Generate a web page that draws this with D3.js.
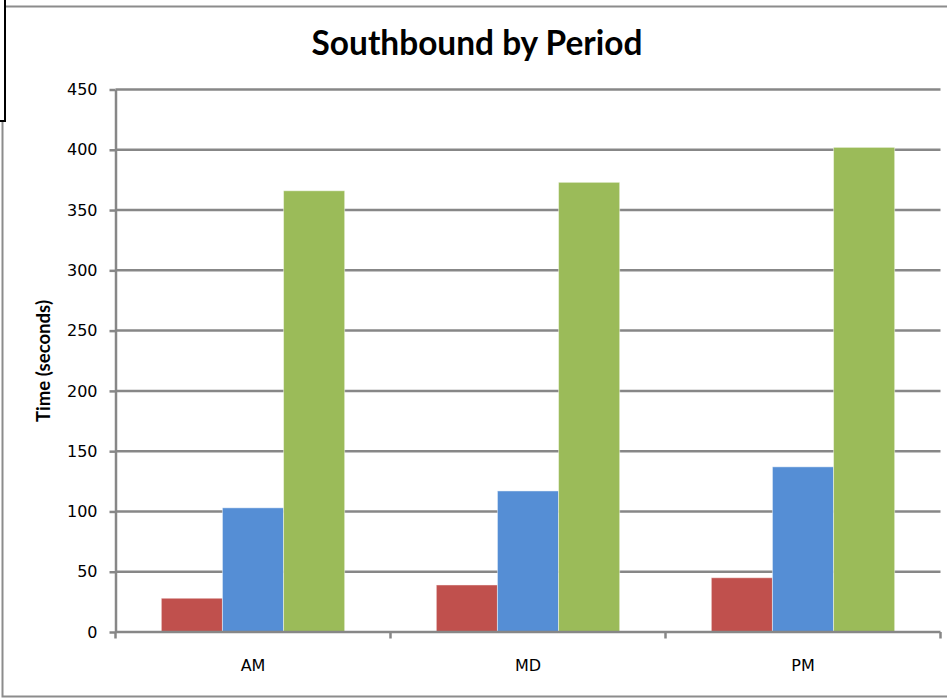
<!DOCTYPE html>
<html>
<head>
<meta charset="utf-8">
<script src="https://cdn.jsdelivr.net/npm/d3@7"></script>
<style>
  html, body { margin: 0; padding: 0; background: #fff; }
  svg { display: block; }
</style>
</head>
<body>
<div id="chart"></div>
<script>
// chart data
var categories = ["AM", "MD", "PM"];
var seriesNames = ["Series1", "Series2", "Series3"];
var series1 = [28, 39, 45];
var series2 = [103, 117, 137];
var series3 = [366, 373, 402];
var yTicks = [0, 50, 100, 150, 200, 250, 300, 350, 400, 450];
var colors = ["#c0504d", "#558ed5", "#9bbb59"];

var width = 947, height = 698;
var svg = d3.select("#chart").append("svg")
    .attr("width", width)
    .attr("height", height);

// outer frame (partly hidden by the box in the corner)
var frameColor = "#8c8c8c";
svg.append("path")
    .attr("d", "M6,6.5 H947 M2.5,122 V696.5 H947")
    .attr("fill", "none")
    .attr("stroke", frameColor)
    .attr("stroke-width", 2);
svg.append("path")
    .attr("d", "M5,0 V121 H0")
    .attr("fill", "none")
    .attr("stroke", "#000")
    .attr("stroke-width", 2);

var plotLeft = 115.5, plotRight = 940.5, plotTop = 89.5, plotBottom = 632;

var x0 = d3.scaleBand().domain(categories).range([plotLeft, plotRight]).padding(0);
// Excel style gap width 150%
var x1 = d3.scaleBand().domain(seriesNames).range([0, x0.bandwidth()])
    .paddingInner(0).paddingOuter(0.75);
var y = d3.scaleLinear().domain([0, 450]).range([plotBottom, plotTop]);

var gridColor = "#878787";

// gridlines
svg.append("g").selectAll("line")
    .data(yTicks.filter(function (d) { return d > 0; }))
    .join("line")
    .attr("x1", plotLeft).attr("x2", plotRight)
    .attr("y1", function (d) { return y(d); })
    .attr("y2", function (d) { return y(d); })
    .attr("stroke", gridColor)
    .attr("stroke-width", 2.5);

// bars
var rows = categories.map(function (c, i) {
    return [series1[i], series2[i], series3[i]].map(function (v, j) {
        return {cat: c, name: seriesNames[j], value: v, color: colors[j]};
    });
});

svg.append("g").selectAll("g")
    .data(rows)
    .join("g")
    .attr("transform", function (d) { return "translate(" + x0(d[0].cat) + ",0)"; })
    .selectAll("rect")
    .data(function (d) { return d; })
    .join("rect")
    .attr("x", function (d) { return x1(d.name); })
    .attr("width", x1.bandwidth())
    .attr("y", function (d) { return y(d.value); })
    .attr("height", function (d) { return y(0) - y(d.value); })
    .attr("fill", function (d) { return d.color; })
    .attr("stroke", "rgba(255,255,255,0.45)")
    .attr("stroke-width", 1);

// y axis
var yAxis = svg.append("g")
    .attr("transform", "translate(" + plotLeft + ",0)")
    .call(d3.axisLeft(y).tickValues(yTicks).tickSize(6).tickSizeOuter(0).tickPadding(12));
yAxis.select(".domain").attr("stroke", gridColor).attr("stroke-width", 2.5);
yAxis.selectAll(".tick line").attr("stroke", gridColor).attr("stroke-width", 2.5);
yAxis.selectAll("text")
    .attr("fill", "#000")
    .style("font-family", "'DejaVu Sans', sans-serif")
    .style("font-size", "16px");

// x axis: line plus ticks on the category edges
var edges = categories.map(function (c) { return x0(c); }).concat([plotRight]);
svg.append("line")
    .attr("x1", plotLeft).attr("x2", plotRight)
    .attr("y1", plotBottom).attr("y2", plotBottom)
    .attr("stroke", gridColor).attr("stroke-width", 2.5);
svg.append("g").selectAll("line")
    .data(edges)
    .join("line")
    .attr("x1", function (d) { return d; }).attr("x2", function (d) { return d; })
    .attr("y1", plotBottom).attr("y2", plotBottom + 6.5)
    .attr("stroke", gridColor).attr("stroke-width", 2.5);
svg.append("g").selectAll("text")
    .data(categories)
    .join("text")
    .attr("x", function (d) { return x0(d) + x0.bandwidth() / 2; })
    .attr("y", 671)
    .attr("text-anchor", "middle")
    .style("font-family", "'DejaVu Sans', sans-serif")
    .style("font-size", "16px")
    .text(function (d) { return d; });

// fit a bold text to the width it has in the picture
function fitText(sel, target) {
    var size = parseFloat(sel.style("font-size"));
    var len = sel.node().getComputedTextLength();
    if (len > 0) sel.style("font-size", (size * target / len) + "px");
}

var title = svg.append("text")
    .attr("x", 477)
    .attr("y", 55)
    .attr("text-anchor", "middle")
    .style("font-family", "Lato, 'Open Sans', sans-serif")
    .style("font-weight", "bold")
    .style("font-size", "28px")
    .text("Southbound by Period");
fitText(title, 331);

var yTitle = svg.append("text")
    .attr("transform", "translate(50,361) rotate(-90)")
    .attr("text-anchor", "middle")
    .style("font-family", "Lato, 'Open Sans', sans-serif")
    .style("font-weight", "bold")
    .style("font-size", "15px")
    .text("Time (seconds)");
fitText(yTitle, 122);
</script>
</body>
</html>
